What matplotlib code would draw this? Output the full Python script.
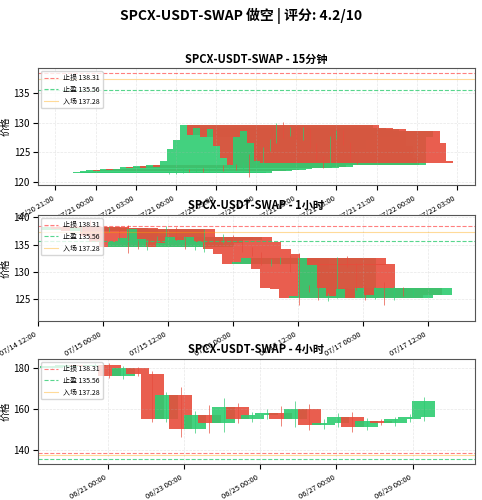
import matplotlib
matplotlib.use('Agg')
import matplotlib.pyplot as plt
import matplotlib.dates as mdates
import numpy as np
import pandas as pd

plt.rcParams['font.family'] = ['Noto Sans CJK SC', 'DejaVu Sans']

stop_loss = 138.31
take_profit = 135.56
entry = 137.28

# 15min panel
t1 = pd.date_range('2025-07-21 05:30', periods=29, freq='30min')
o1 = [121.5, 121.6, 121.8, 122.0, 121.9, 122.1, 122.0, 122.2, 122.5, 122.3, 122.7, 122.4, 122.9, 122.6,
      123.5, 125.5, 127.0, 129.5, 128.0, 129.0, 127.5, 128.8, 126.0, 124.0, 122.8, 127.5, 128.5, 126.5, 123.5]
c1 = [121.6, 121.8, 122.0, 121.9, 122.1, 122.0, 122.2, 122.5, 122.3, 122.7, 122.4, 122.9, 122.6, 123.5,
      125.5, 127.0, 129.5, 128.0, 129.0, 127.5, 128.8, 126.0, 124.0, 122.8, 127.5, 128.5, 126.5, 123.5, 123.2]
w1 = [0.1, 0.2, 0.3, 0.2, 0.2, 0.3, 0.2, 0.3, 0.4, 0.3, 0.3, 0.5, 1.8, 0.3,
      0.4, 0.3, 0.4, 0.6, 0.3, 0.5, 0.4, 0.3, 0.5, 0.4, 0.3, 0.2, 0.3, 0.2, 0.1]

# 1h panel
t2 = pd.date_range('2025-07-14 20:00', periods=36, freq='105min')
c2 = [138.2, 137.8, 137.5, 137.9, 136.5, 135.5, 134.5, 135.5, 136.2, 137.8, 136.0, 134.5,
      135.2, 136.3, 135.8, 136.4, 135.4, 134.2, 133.3, 131.5, 131.8, 132.4, 130.5, 127.0,
      126.8, 125.2, 125.6, 132.4, 131.3, 127.0, 125.5, 126.8, 125.3, 127.0, 125.8, 126.9]
o2 = [137.6] + c2[:-1]
w2 = [0.3, 1.2, 0.4, 0.3, 0.5, 2.0, 0.4, 0.5, 0.3, 0.6, 0.4, 0.3,
      0.5, 1.5, 0.4, 0.5, 0.3, 0.6, 0.4, 0.3, 0.5, 0.4, 0.6, 3.0,
      0.5, 0.4, 0.6, 0.4, 0.5, 0.3, 0.6, 0.5, 1.4, 0.4, 0.3, 0.2]

# 4h panel
t3 = pd.date_range('2025-06-19 13:00', periods=27, freq='9h')
c3 = [180.8, 181.3, 181.0, 181.6, 176.0, 180.0, 177.0, 155.0, 167.0, 150.0, 157.0, 153.0, 161.0, 155.0,
      157.0, 158.0, 155.0, 160.0, 152.0, 153.0, 156.0, 151.0, 154.0, 153.0, 155.0, 156.0, 164.0]
o3 = [180.2] + c3[:-1]
w3 = [0.5, 0.6, 0.5, 0.8, 1.0, 1.2, 0.8, 1.5, 1.3, 4.0, 2.0, 5.0, 4.5, 2.0,
      1.5, 2.0, 3.5, 4.0, 2.5, 2.0, 1.8, 2.5, 1.5, 1.0, 1.2, 1.5, 2.0]

panels = [
    ('SPCX-USDT-SWAP - 15分钟', t1, o1, c1, w1, (119.5, 139.2),
     mdates.HourLocator(byhour=[0, 3, 6, 9, 12, 15, 18, 21]), ('2025-07-20 19:40', '2025-07-22 04:20')),
    ('SPCX-USDT-SWAP - 1小时', t2, o2, c2, w2, (121.0, 140.4),
     mdates.HourLocator(byhour=[0, 12]), ('2025-07-14 12:00', '2025-07-17 20:40')),
    ('SPCX-USDT-SWAP - 4小时', t3, o3, c3, w3, (133.0, 184.5),
     mdates.DayLocator(bymonthday=[21, 23, 25, 27, 29]), ('2025-06-19 04:00', '2025-06-30 15:00')),
]
rects = [[0.078, 0.63, 0.907, 0.234], [0.078, 0.358, 0.907, 0.212], [0.078, 0.072, 0.907, 0.21]]

fig = plt.figure(figsize=(4.82, 5), dpi=100)
fig.suptitle('SPCX-USDT-SWAP 做空 | 评分: 4.2/10', fontsize=10, fontweight='bold', y=0.985)

for (title, t, o, c, w, ylim, loc, xl), r in zip(panels, rects):
    ax = fig.add_axes(r)
    x = mdates.date2num(t)
    o = np.array(o); c = np.array(c); w = np.array(w)
    up = c >= o
    colors = np.where(up, '#2ecc71', '#e74c3c')
    hi = np.maximum(o, c) + w
    lo = np.minimum(o, c) - w
    ax.vlines(x, lo, hi, colors=colors, linewidth=0.6, alpha=0.8)
    ax.bar(x, np.abs(c - o) + 0.05, bottom=np.minimum(o, c), width=0.6, color=colors, alpha=0.9)
    ax.axhline(stop_loss, color='red', linestyle='--', linewidth=0.8, alpha=0.5, label=f'止损 {stop_loss}')
    ax.axhline(take_profit, color='#2ecc71', linestyle='--', linewidth=0.8, alpha=0.8, label=f'止盈 {take_profit}')
    ax.axhline(entry, color='orange', linestyle='-', linewidth=0.8, alpha=0.4, label=f'入场 {entry}')
    ax.set_ylim(*ylim)
    ax.set_xlim(mdates.date2num(pd.Timestamp(xl[0])), mdates.date2num(pd.Timestamp(xl[1])))
    ax.set_title(title, fontsize=8, fontweight='bold', pad=4)
    ax.set_ylabel('价格', fontsize=7, labelpad=2)
    ax.tick_params(axis='y', labelsize=7, pad=2)
    ax.xaxis.set_major_locator(loc)
    ax.xaxis.set_major_formatter(mdates.DateFormatter('%m/%d %H:%M'))
    plt.setp(ax.get_xticklabels(), rotation=30, ha='right', fontsize=5.5)
    ax.grid(True, alpha=0.3, linestyle='--', linewidth=0.5)
    ax.legend(loc='upper left', fontsize=5, framealpha=0.8)
    for s in ax.spines.values():
        s.set_color('#555555')

fig.savefig('out.png', dpi=100)
